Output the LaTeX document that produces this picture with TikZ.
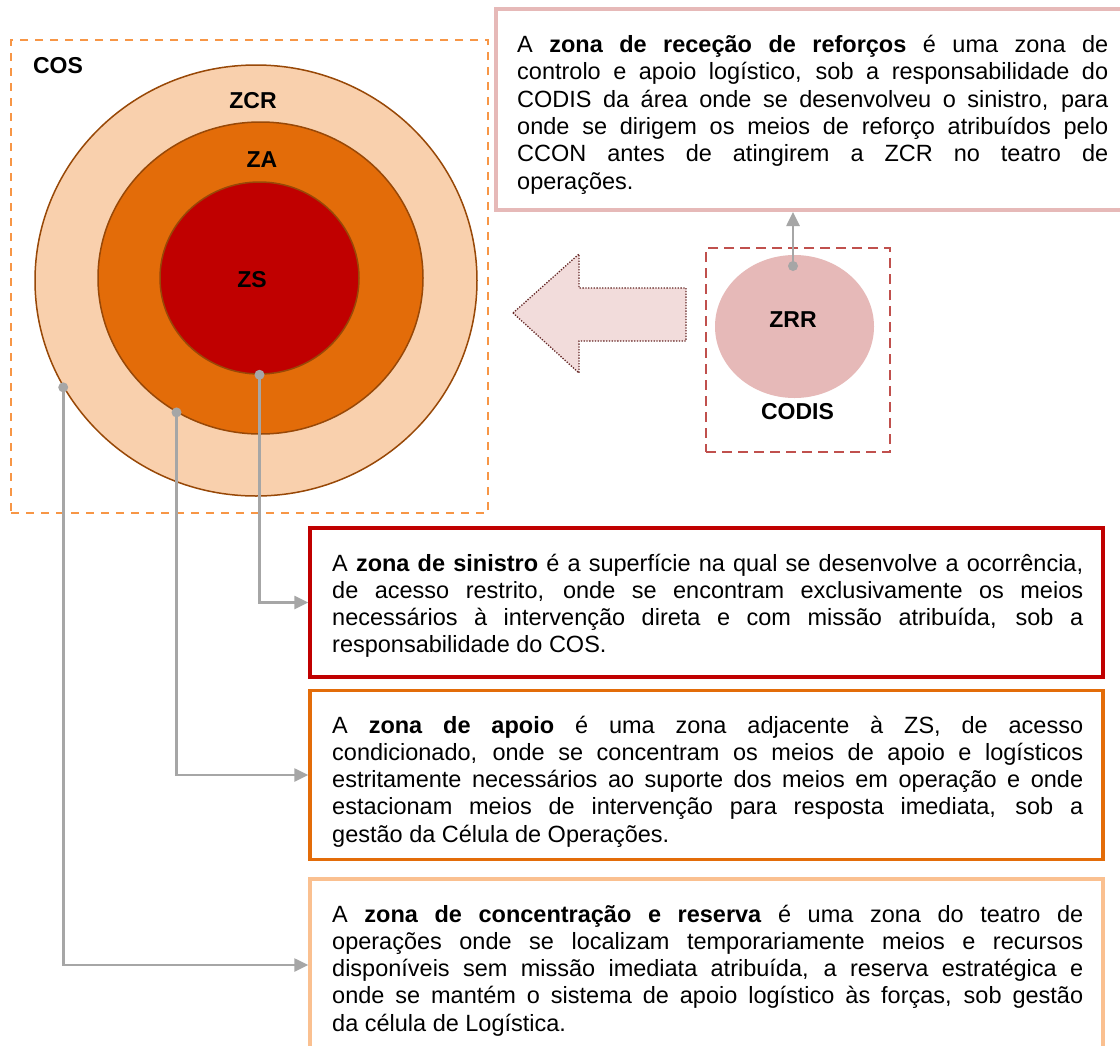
\documentclass[tikz,border=0pt]{standalone}
\usepackage{fontspec}
\setmainfont{Liberation Sans}
\usetikzlibrary{arrows.meta,shapes.geometric}
\hyphenpenalty=10000
\exhyphenpenalty=10000
\tolerance=10000
\definecolor{ringline}{HTML}{984807}
\definecolor{zcrfill}{HTML}{F9D0AD}
\definecolor{zafill}{HTML}{E36C09}
\definecolor{zsfill}{HTML}{C00000}
\definecolor{cosdash}{HTML}{F79646}
\definecolor{codisdash}{HTML}{C0504D}
\definecolor{zrrfill}{HTML}{E6B9B8}
\definecolor{arrowfill}{HTML}{F2DCDB}
\definecolor{arrowline}{HTML}{632523}
\definecolor{topline}{HTML}{E6B9B8}
\definecolor{zsline}{HTML}{C00000}
\definecolor{zaline}{HTML}{E36C09}
\definecolor{zcrline}{HTML}{FAC090}
\definecolor{conngrey}{HTML}{A6A6A6}
\begin{document}
\begin{tikzpicture}[x=1pt,y=-1pt,
  ring/.style={ellipse, draw=ringline, line width=1.5pt, inner sep=0pt},
  zlabel/.style={font=\fontsize{23}{27}\selectfont\bfseries, inner sep=0pt},
  para/.style={anchor=base west, inner sep=0pt, align=justify, font=\fontsize{23.5}{27.3}\selectfont},
  infobox/.style={rectangle, draw, inner sep=0pt},
  conn/.style={draw=conngrey, line width=2.6pt, -{Triangle[length=14pt,width=13pt]}},
  dot/.style={circle, fill=conngrey, inner sep=0pt, minimum size=10pt},
  dashbox/.style={rectangle, draw, line width=2.5pt, inner sep=0pt}
]
\useasboundingbox (0,0) rectangle (1120,1045);
\fill[white] (0,0) rectangle (1120,1045);

% COS area
\node[dashbox, draw=cosdash, dash pattern=on 8pt off 7pt, minimum width=477pt, minimum height=473pt] (cosbox) at (249.5,276.5) {};
\node[zlabel] (coslbl) at (58,66) {COS};

% concentric zones
\node[ring, fill=zcrfill, minimum width=442pt, minimum height=431pt] (zcr) at (256,280.5) {};
\node[ring, fill=zafill, minimum width=325pt, minimum height=312pt] (za) at (260.5,278) {};
\node[ring, fill=zsfill, minimum width=199pt, minimum height=192pt] (zs) at (259.5,278) {};
\node[zlabel] (zcrlbl) at (253,101) {ZCR};
\node[zlabel] (zalbl) at (262,160) {ZA};
\node[zlabel] (zslbl) at (252,280) {ZS};

% block arrow
\draw[fill=arrowfill, draw=arrowline, line width=1.3pt, dash pattern=on 1.3pt off 1.5pt]
  (513,313) -- (579,254) -- (579,288) -- (686,288) -- (686,341) -- (579,341) -- (579,373) -- cycle;

% CODIS area
\node[dashbox, draw=codisdash, dash pattern=on 10pt off 6pt, minimum width=184pt, minimum height=204pt] (codisbox) at (798,350) {};
\node[ellipse, fill=zrrfill, minimum width=159pt, minimum height=143pt, inner sep=0pt] (zrr) at (794.5,326.5) {};
\node[zlabel] (zrrlbl) at (793,320) {ZRR};
\node[zlabel] (codislbl) at (797.5,411.5) {CODIS};
\coordinate (zrrdot) at (793,266);

% text boxes
\node[infobox, draw=topline, line width=4pt, minimum width=660pt, minimum height=201pt] (topbox) at (826,109.5) {};
\node[infobox, draw=zsline, line width=3.5pt, minimum width=793pt, minimum height=149pt] (zsbox) at (706.5,602.5) {};
\node[infobox, draw=zaline, line width=3.5pt, minimum width=793pt, minimum height=169pt] (zabox) at (706.5,775) {};
\node[infobox, draw=zcrline, line width=3.5pt, minimum width=793pt, minimum height=172pt] (zcrbox) at (706.5,965) {};

\node[para, text width=591pt] (toptext) at (517,52.5) {A \textbf{zona de receção de reforços} é uma zona de\linebreak controlo e apoio logístico, sob a responsabilidade do\linebreak CODIS da área onde se desenvolveu o sinistro, para\linebreak onde se dirigem os meios de reforço atribuídos pelo\linebreak CCON antes de atingirem a ZCR no teatro de\linebreak operações.};

\node[para, text width=751pt] (zstext) at (332,571) {A \textbf{zona de sinistro} é a superfície na qual se desenvolve a ocorrência,\linebreak de acesso restrito, onde se encontram exclusivamente os meios\linebreak necessários à intervenção direta e com missão atribuída, sob a\linebreak responsabilidade do COS.};

\node[para, text width=751pt] (zatext) at (332,733) {A \textbf{zona de apoio} é uma zona adjacente à ZS, de acesso\linebreak condicionado, onde se concentram os meios de apoio e logísticos\linebreak estritamente necessários ao suporte dos meios em operação e onde\linebreak estacionam meios de intervenção para resposta imediata, sob a\linebreak gestão da Célula de Operações.};

\node[para, text width=751pt] (zcrtext) at (332,922) {A \textbf{zona de concentração e reserva} é uma zona do teatro de\linebreak operações onde se localizam temporariamente meios e recursos\linebreak disponíveis sem missão imediata atribuída, a reserva estratégica e\linebreak onde se mantém o sistema de apoio logístico às forças, sob gestão\linebreak da célula de Logística.};

% connectors
\draw[conn] (zs.south) |- (zsbox.west);
\draw[conn] (za.238) |- (zabox.west);
\draw[conn] (zcr.209) |- (zcrbox.west);
\draw[conn] (zrrdot) -- (zrrdot |- topbox.south);
\node[dot] (zsdot) at (zs.south) {};
\node[dot] (zadot) at (za.238) {};
\node[dot] (zcrdot) at (zcr.209) {};
\node[dot] (zrrdotn) at (zrrdot) {};
\end{tikzpicture}
\end{document}
